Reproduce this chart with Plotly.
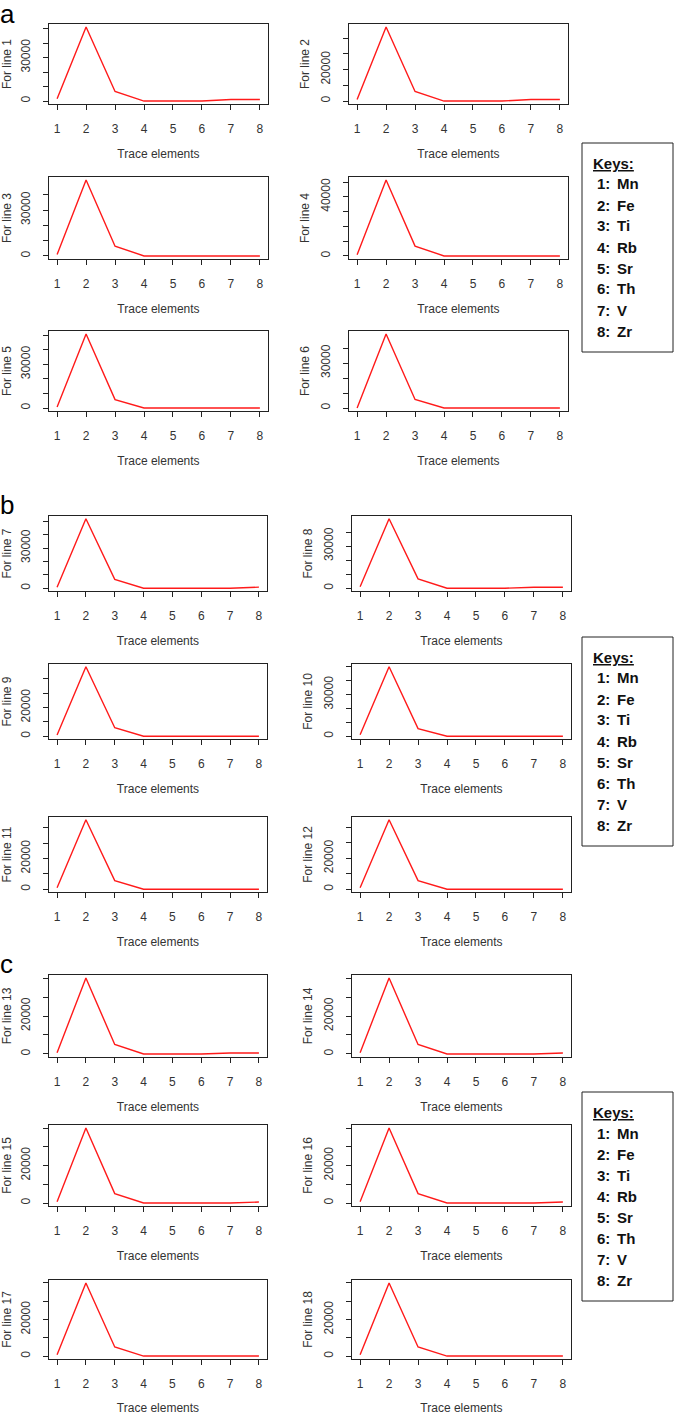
import plotly.graph_objects as go

W, H = 675, 1415
FONT = "Liberation Sans"
TXT = "#333333"

# ---------------- data ----------------
categories = [1, 2, 3, 4, 5, 6, 7, 8]
key_numbers = ["1:", "2:", "3:", "4:", "5:", "6:", "7:", "8:"]
key_elements = ["Mn", "Fe", "Ti", "Rb", "Sr", "Th", "V", "Zr"]
panel_labels = ["a", "b", "c"]
x_title = "Trace elements"

line1 = [1600, 51200, 6600, 0, 0, 0, 1100, 1100]
line2 = [1000, 47200, 6100, 0, 0, 0, 1000, 1000]
line3 = [900, 49600, 6400, 0, 0, 0, 0, 0]
line4 = [900, 51400, 6700, 0, 0, 0, 0, 0]
line5 = [700, 50900, 5800, 0, 0, 0, 0, 0]
line6 = [0, 49500, 5700, 0, 0, 0, 0, 0]
line7 = [800, 51800, 6600, 0, 0, 0, 0, 800]
line8 = [1000, 49500, 6700, 0, 0, 0, 700, 700]
line9 = [900, 48500, 5900, 0, 0, 0, 0, 0]
line10 = [1000, 50000, 5500, 0, 0, 0, 0, 0]
line11 = [900, 45300, 5600, 0, 0, 0, 0, 0]
line12 = [900, 45000, 5600, 0, 0, 0, 0, 0]
line13 = [700, 40000, 5000, 0, 0, 0, 500, 500]
line14 = [700, 40000, 5000, 0, 0, 0, 0, 500]
line15 = [700, 40000, 5000, 0, 0, 0, 0, 500]
line16 = [700, 40000, 5000, 0, 0, 0, 0, 500]
line17 = [700, 40000, 5000, 0, 0, 0, 0, 0]
line18 = [700, 40000, 5000, 0, 0, 0, 0, 0]

# y tick labels that are printed (others are unlabeled ticks)
ylab1 = [0, 30000]
ylab2 = [0, 20000]
ylab3 = [0, 30000]
ylab4 = [0, 40000]
ylab5 = [0, 30000]
ylab6 = [0, 30000]
ylab7 = [0, 30000]
ylab8 = [0, 30000]
ylab9 = [0, 20000]
ylab10 = [0, 30000]
ylab11 = [0, 20000]
ylab12 = [0, 20000]
ylab13 = [0, 20000]
ylab14 = [0, 20000]
ylab15 = [0, 20000]
ylab16 = [0, 20000]
ylab17 = [0, 20000]
ylab18 = [0, 20000]
y_tick_step = 10000

lines = [line1, line2, line3, line4, line5, line6, line7, line8, line9,
         line10, line11, line12, line13, line14, line15, line16, line17, line18]
ylabs = [ylab1, ylab2, ylab3, ylab4, ylab5, ylab6, ylab7, ylab8, ylab9,
         ylab10, ylab11, ylab12, ylab13, ylab14, ylab15, ylab16, ylab17, ylab18]

# ---------------- geometry (page pixels) ----------------
panel_rows = [
    [(24, 104), (177, 259), (331, 411)],
    [(516, 591), (664, 739), (817, 892)],
    [(975, 1057), (1125, 1206), (1280, 1359)],
]
panel_cols = [
    [(49, 268), (349, 568)],
    [(49, 267), (352, 571)],
    [(49, 267), (352, 571)],
]
key_boxes = [(143, 352), (637, 846), (1092, 1301)]
panel_label_y = [13.5, 505.5, 964]


def px_x(v):
    return v / W


def px_y(v):
    return 1 - v / H


fig = go.Figure()
layout = {}

axis_common = dict(
    showline=True, mirror=True, linecolor="#222222", linewidth=1,
    ticks="outside", ticklen=5, tickwidth=1, tickcolor="#222222",
    showgrid=False, zeroline=False,
    tickfont=dict(family=FONT, size=12, color=TXT),
)

for p in range(3):
    for r in range(3):
        for c in range(2):
            i = p * 6 + r * 2 + c
            n = i + 1
            ys = lines[i]
            (top, bot) = panel_rows[p][r]
            (left, right) = panel_cols[p][c]
            xa = "x" if n == 1 else f"x{n}"
            ya = "y" if n == 1 else f"y{n}"
            fig.add_trace(go.Scatter(
                x=categories, y=ys, mode="lines",
                line=dict(color="#ff1a1a", width=1.4),
                xaxis=xa, yaxis=ya, showlegend=False,
            ))
            lo, hi = min(ys), max(ys)
            pad = 0.04 * (hi - lo)
            tv = list(range(0, int(hi) + 1, y_tick_step))
            tt = [str(v) if v in ylabs[i] else "" for v in tv]
            xkey = "xaxis" if n == 1 else f"xaxis{n}"
            ykey = "yaxis" if n == 1 else f"yaxis{n}"
            layout[xkey] = dict(
                axis_common,
                domain=[px_x(left), px_x(right)],
                anchor=ya,
                range=[1 - 0.28, 8 + 0.28],
                tickmode="array", tickvals=categories,
                ticktext=[str(v) for v in categories],
                ticklabelstandoff=9,
                title=dict(text=x_title, standoff=14,
                           font=dict(family=FONT, size=12, color=TXT)),
            )
            layout[ykey] = dict(
                axis_common,
                domain=[px_y(bot), px_y(top)],
                anchor=xa,
                range=[lo - pad, hi + pad],
                tickmode="array", tickvals=tv, ticktext=tt,
                tickangle=-90,
                ticklabelstandoff=8,
                title=dict(text=f"For line {n}", standoff=7,
                           font=dict(family=FONT, size=12, color=TXT)),
            )

annotations = []
shapes = []
for p in range(3):
    annotations.append(dict(
        text=panel_labels[p], x=px_x(-2), y=px_y(panel_label_y[p]),
        xref="paper", yref="paper", xanchor="left", yanchor="middle",
        showarrow=False, font=dict(family=FONT, size=26, color="#000000"),
    ))
    top, bot = key_boxes[p]
    shapes.append(dict(
        type="rect", xref="paper", yref="paper",
        x0=px_x(582), x1=px_x(673), y0=px_y(bot), y1=px_y(top),
        line=dict(color="#222222", width=1), fillcolor="rgba(0,0,0,0)",
    ))
    annotations.append(dict(
        text="<b><u>Keys:</u></b>", x=px_x(591), y=px_y(top + 20),
        xref="paper", yref="paper", xanchor="left", yanchor="middle",
        showarrow=False, font=dict(family=FONT, size=15, color="#111111"),
    ))
    for k in range(8):
        yk = px_y(top + 41 + 21 * k)
        annotations.append(dict(
            text=f"<b>{key_numbers[k]}</b>", x=px_x(595), y=yk,
            xref="paper", yref="paper", xanchor="left", yanchor="middle",
            showarrow=False, font=dict(family=FONT, size=15, color="#111111"),
        ))
        annotations.append(dict(
            text=f"<b>{key_elements[k]}</b>", x=px_x(615), y=yk,
            xref="paper", yref="paper", xanchor="left", yanchor="middle",
            showarrow=False, font=dict(family=FONT, size=15, color="#111111"),
        ))

fig.update_layout(
    width=W, height=H,
    margin=dict(l=0, r=0, t=0, b=0),
    paper_bgcolor="white", plot_bgcolor="white",
    annotations=annotations, shapes=shapes,
    **layout,
)

fig.write_html("out.html",
               config={"displayModeBar": False},
               post_script="document.body.style.margin='0px';")
